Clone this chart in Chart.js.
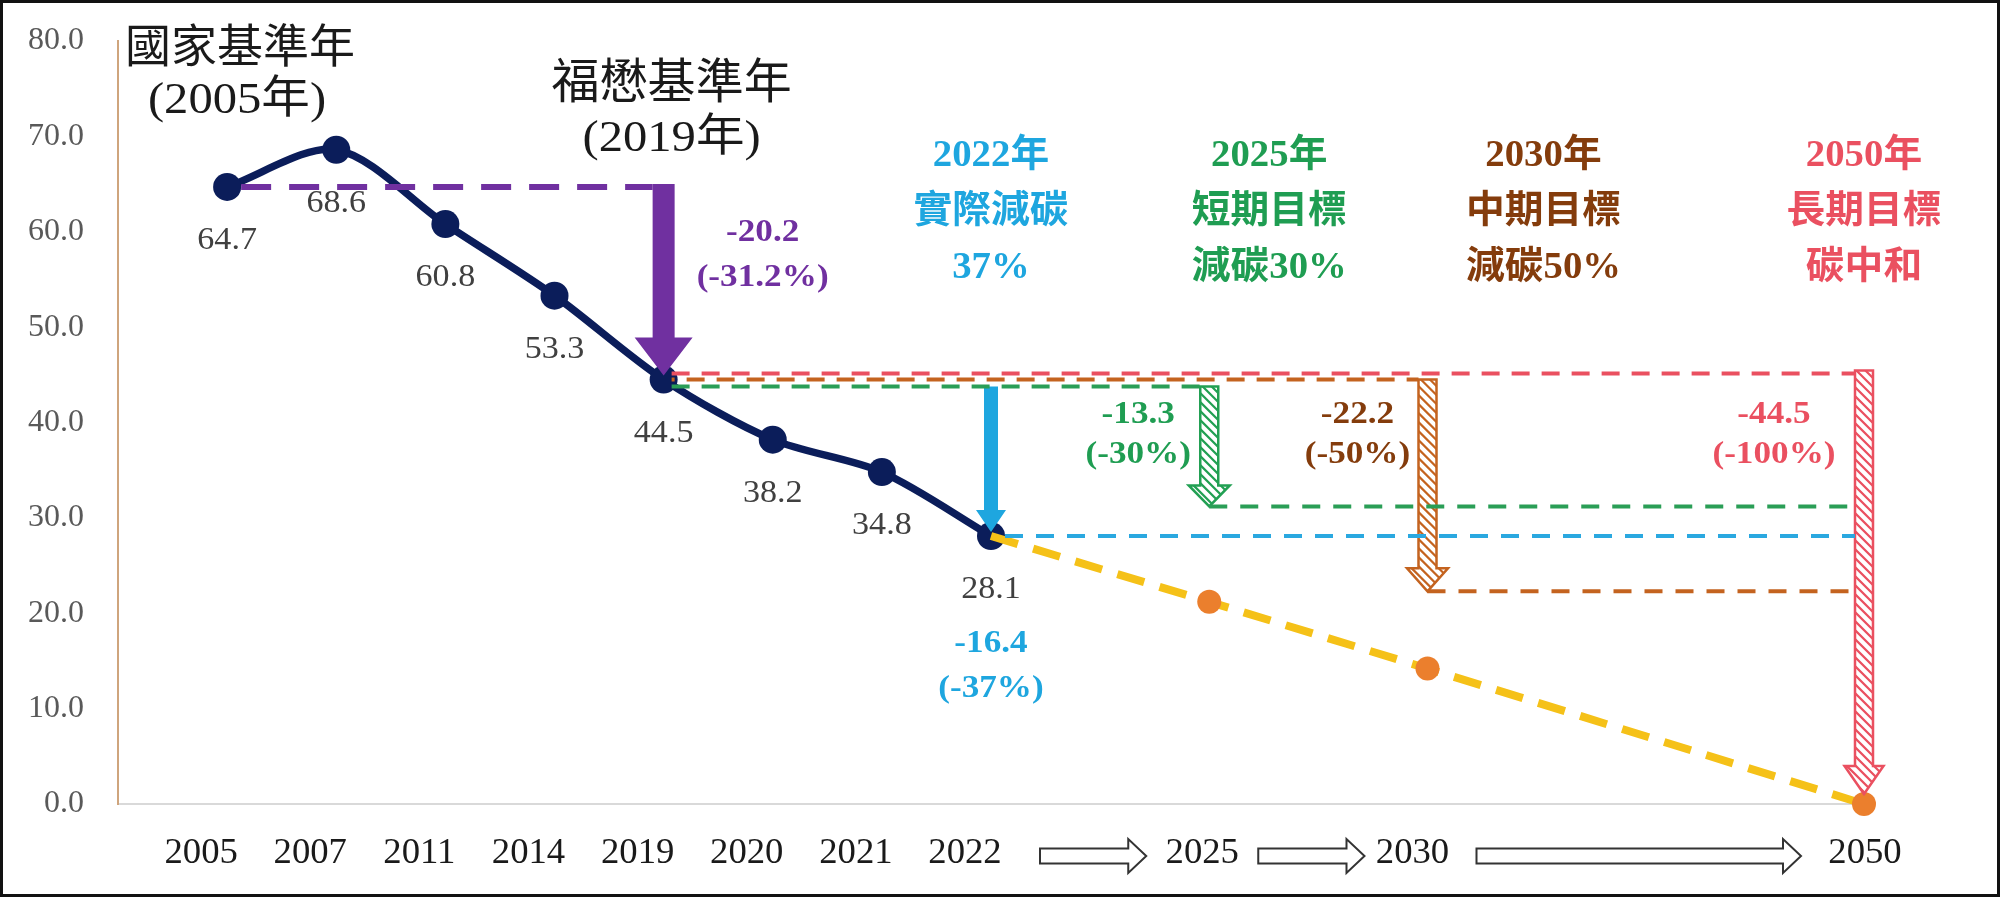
<!DOCTYPE html>
<html>
<head>
<meta charset="utf-8">
<script src="https://cdn.jsdelivr.net/npm/chart.js@4.4.0/dist/chart.umd.min.js"></script>
<style>
  html, body { margin: 0; padding: 0; background: #fff; }
  #wrap { position: relative; width: 2000px; height: 897px; }
  #frame { position: absolute; left: 0; top: 0; width: 2000px; height: 897px;
           box-sizing: border-box; border: 3px solid #111; pointer-events: none; }
</style>
</head>
<body>
<div id="wrap">
  <canvas id="chart" width="2000" height="897"></canvas>
  <div id="frame"></div>
</div>
<script>
// time axis ('' = empty slot)
const years = ['', '2005', '2007', '2011', '2014', '2019', '2020', '2021', '2022', '', '2025', '', '2030', '', '', '', '2050'];
// actual emissions
const actual = [null, 64.7, 68.6, 60.8, 53.3, 44.5, 38.2, 34.8, 28.1, null, null, null, null, null, null, null, null];
// projected path to net zero
const projected = [null, null, null, null, null, null, null, null, 28.1, null, 21.2, null, 14.2, null, null, null, 0];
const yTicks = [0, 10, 20, 30, 40, 50, 60, 70, 80];

// reference levels
const base2005 = 64.7;
const base2019 = 44.5;
const actual2022 = 28.1;
const target2025 = 31.2;
const target2030 = 22.3;
const target2050 = 0;

const C = {
  navy: '#0b1d5a', purple: '#7030a0', cyan: '#1ea6df', green: '#1f9d52',
  brownText: '#843c0c', brown: '#c4631f', red: '#ea5060', gold: '#f5c118', orange: '#eb7f2d'
};

function txt(ctx, s, x, y, font, color, sx) {
  ctx.save();
  ctx.font = font;
  ctx.fillStyle = color;
  ctx.textAlign = 'center';
  ctx.textBaseline = 'middle';
  ctx.translate(x, y);
  ctx.scale(sx || 1, 1);
  ctx.fillText(s, 0, 0);
  ctx.restore();
}

function dash(ctx, x0, x1, y, color, width, pattern, offset) {
  ctx.save();
  ctx.strokeStyle = color;
  ctx.lineWidth = width;
  ctx.setLineDash(pattern);
  ctx.lineDashOffset = offset || 0;
  ctx.beginPath();
  ctx.moveTo(x0, y);
  ctx.lineTo(x1, y);
  ctx.stroke();
  ctx.restore();
}

function arrowPath(ctx, x, top, tip, shaftW, headW, headLen) {
  const hy = tip - headLen;
  ctx.beginPath();
  ctx.moveTo(x - shaftW / 2, top);
  ctx.lineTo(x + shaftW / 2, top);
  ctx.lineTo(x + shaftW / 2, hy);
  ctx.lineTo(x + headW / 2, hy);
  ctx.lineTo(x, tip);
  ctx.lineTo(x - headW / 2, hy);
  ctx.lineTo(x - shaftW / 2, hy);
  ctx.closePath();
}

function solidArrow(ctx, x, top, tip, shaftW, headW, headLen, color) {
  ctx.save();
  arrowPath(ctx, x, top, tip, shaftW, headW, headLen);
  ctx.fillStyle = color;
  ctx.fill();
  ctx.restore();
}

function hatchArrow(ctx, x, top, tip, shaftW, headW, headLen, color) {
  ctx.save();
  arrowPath(ctx, x, top, tip, shaftW, headW, headLen);
  ctx.fillStyle = '#fff';
  ctx.fill();
  ctx.save();
  ctx.clip();
  ctx.strokeStyle = color;
  ctx.lineWidth = 2.2;
  ctx.beginPath();
  for (let k = top - headW; k < tip + 4; k += 9) {
    ctx.moveTo(x - headW / 2, k);
    ctx.lineTo(x + headW / 2, k + headW);
  }
  ctx.stroke();
  ctx.restore();
  arrowPath(ctx, x, top, tip, shaftW, headW, headLen);
  ctx.strokeStyle = color;
  ctx.lineWidth = 2.5;
  ctx.stroke();
  ctx.restore();
}

function hollowArrow(ctx, x0, x1, yc, bodyH, headH, headLen) {
  const hx = x1 - headLen;
  ctx.save();
  ctx.beginPath();
  ctx.moveTo(x0, yc - bodyH / 2);
  ctx.lineTo(hx, yc - bodyH / 2);
  ctx.lineTo(hx, yc - headH / 2);
  ctx.lineTo(x1, yc);
  ctx.lineTo(hx, yc + headH / 2);
  ctx.lineTo(hx, yc + bodyH / 2);
  ctx.lineTo(x0, yc + bodyH / 2);
  ctx.closePath();
  ctx.fillStyle = '#fff';
  ctx.fill();
  ctx.strokeStyle = '#333';
  ctx.lineWidth = 2;
  ctx.stroke();
  ctx.restore();
}

const annotate = {
  id: 'annotate',
  afterDatasetsDraw(chart) {
    const ctx = chart.ctx;
    const xs = chart.scales.x, ys = chart.scales.y;
    const px = lab => xs.getPixelForValue(years.indexOf(lab));
    const py = v => ys.getPixelForValue(v);
    const x05 = px('2005'), x19 = px('2019'), x22 = px('2022');
    const x25 = px('2025'), x30 = px('2030'), x50 = px('2050');
    const yRed = py(base2019) - 6, yBrown = py(base2019), yGreen = py(base2019) + 7;

    // arrows
    solidArrow(ctx, x19, py(base2005) - 3, py(base2019) - 4, 22, 58, 38, C.purple);
    solidArrow(ctx, x22, yGreen, py(actual2022) - 4, 14, 30, 22, C.cyan);
    hatchArrow(ctx, x25, yGreen, py(target2025), 18, 41, 21, '#22a053');
    hatchArrow(ctx, x30, yBrown, py(target2030), 18, 41, 23, C.brown);
    hatchArrow(ctx, x50, yRed - 3, py(target2050) - 10, 18, 39, 28, C.red);

    // dashed reference lines
    dash(ctx, x05 + 14, x19 - 11, py(base2005), C.purple, 6, [30, 18]);
    dash(ctx, x19 + 8, x50 - 9, yRed, C.red, 4, [18, 12]);
    dash(ctx, x19 + 8, x30 - 9, yBrown, C.brown, 4, [18, 12], 15);
    dash(ctx, x19 + 8, x25 - 9, yGreen, '#2a9e56', 4, [18, 12]);
    dash(ctx, x25, x50 - 9, py(target2025), '#2a9e56', 4, [18, 13]);
    dash(ctx, x22 + 14, x50 - 9, py(actual2022), '#2aa8e0', 4, [18, 13]);
    dash(ctx, x30, x50 - 9, py(target2030), C.brown, 4, [18, 13]);

    // value labels below actual points
    const meta = chart.getDatasetMeta(1);
    meta.data.forEach((pt, i) => {
      if (actual[i] === null) return;
      txt(ctx, actual[i].toFixed(1), pt.x, pt.y + 54, '31px "Liberation Serif"', '#404040', 1.1);
    });

    // base-year captions
    txt(ctx, '國家基準年', 240, 45, '46px "Noto Sans CJK TC"', '#1a1a1a');
    txt(ctx, '(2005年)', 237, 101, '45px "Liberation Serif", "Noto Sans CJK TC"', '#1a1a1a', 1.08);
    txt(ctx, '福懋基準年', x19 + 8, 80, '48px "Noto Sans CJK TC"', '#1a1a1a');
    txt(ctx, '(2019年)', x19 + 8, 139, '45px "Liberation Serif", "Noto Sans CJK TC"', '#1a1a1a', 1.08);

    // headers
    const hf = 'bold 38px "Liberation Serif", "Noto Sans CJK TC"';
    const heads = [
      [x22, C.cyan, ['2022年', '實際減碳', '37%']],
      [x25 + 60, C.green, ['2025年', '短期目標', '減碳30%']],
      [x30 + 116, C.brownText, ['2030年', '中期目標', '減碳50%']],
      [x50, C.red, ['2050年', '長期目標', '碳中和']]
    ];
    heads.forEach(([hx, col, lines]) => {
      lines.forEach((s, k) => txt(ctx, s, hx, 156 + k * 56, hf, col, 1.02));
    });

    // reduction labels
    const lf = 'bold 32px "Liberation Serif"';
    const reds = [
      [x19 + 99, 233, 45, C.purple, ['-20.2', '(-31.2%)']],
      [x22, 644, 45, C.cyan, ['-16.4', '(-37%)']],
      [x25 - 71, 415, 40, C.green, ['-13.3', '(-30%)']],
      [x30 - 70, 415, 40, C.brownText, ['-22.2', '(-50%)']],
      [x50 - 90, 415, 40, C.red, ['-44.5', '(-100%)']]
    ];
    reds.forEach(([lx, ly, lh, col, lines]) => {
      lines.forEach((s, k) => txt(ctx, s, lx, ly + k * lh, lf, col, 1.1));
    });

    // x-axis year labels, and hollow arrows between the later years
    const yc = chart.chartArea.bottom + 50;
    years.forEach((lab, i) => {
      if (!lab) return;
      const shift = lab === '2025' ? -7 : lab === '2050' ? 1 : lab === '2030' ? -15 : -26;
      txt(ctx, lab, xs.getPixelForValue(i) + shift, yc, '36px "Liberation Serif"', '#1a1a1a', 1.02);
    });
    [['2022', '2025'], ['2025', '2030'], ['2030', '2050']].forEach(([a, b]) => {
      hollowArrow(ctx, px(a) + 49, px(b) - 63, yc + 2, 15, 34, 18);
    });
  }
};

new Chart(document.getElementById('chart').getContext('2d'), {
  type: 'line',
  data: {
    labels: years,
    datasets: [
      {
        label: 'projected',
        data: projected,
        order: 0,
        spanGaps: true,
        borderColor: C.gold,
        borderWidth: 8,
        borderDash: [28, 16],
        tension: 0,
        pointRadius: projected.map((v, i) => (i === years.indexOf('2022') ? 0 : 12)),
        pointBackgroundColor: C.orange,
        pointBorderWidth: 0,
        clip: false
      },
      {
        label: 'actual',
        data: actual,
        order: 1,
        borderColor: C.navy,
        borderWidth: 7.5,
        tension: 0.3,
        pointRadius: 14,
        pointBackgroundColor: C.navy,
        pointBorderWidth: 0,
        clip: false
      }
    ]
  },
  options: {
    responsive: false,
    animation: false,
    layout: { padding: { top: 41, right: 136, left: 0, bottom: 0 } },
    plugins: { legend: { display: false }, tooltip: { enabled: false } },
    scales: {
      x: {
        type: 'category',
        offset: false,
        grid: { color: 'rgba(0,0,0,0)', drawTicks: false },
        border: { color: '#d9d9d9', width: 2 },
        ticks: { display: false, autoSkip: false, maxRotation: 0 },
        afterFit: s => { s.height = 93; s.paddingLeft = 0; s.paddingRight = 0; }
      },
      y: {
        min: 0,
        max: 80,
        afterBuildTicks: s => { s.ticks = yTicks.map(v => ({ value: v })); },
        grid: { color: 'rgba(0,0,0,0)', drawTicks: false },
        border: { color: '#cfa57d', width: 2 },
        ticks: {
          padding: 34, color: '#595959',
          font: { family: 'Liberation Serif', size: 32 },
          callback: v => v.toFixed(1)
        },
        afterFit: s => { s.width = 118; s.paddingTop = 0; s.paddingBottom = 0; }
      }
    }
  },
  plugins: [annotate]
});
</script>
</body>
</html>
